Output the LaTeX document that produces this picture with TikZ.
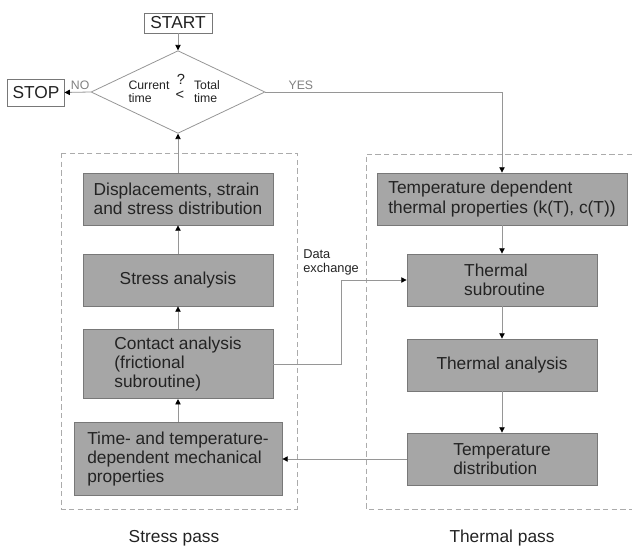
\documentclass[tikz,border=0pt]{standalone}
\usepackage{fontspec}
\setmainfont{Liberation Sans}
\usetikzlibrary{arrows.meta,shapes.geometric}

\definecolor{boxgray}{RGB}{166,166,166}
\definecolor{edgegray}{RGB}{120,120,120}
\definecolor{linegray}{RGB}{150,150,150}
\definecolor{txtgray}{RGB}{35,35,35}

\tikzset{
    procbox/.style={draw=edgegray, fill=boxgray, line width=0.6pt, align=left,
        text=txtgray, font=\fontsize{13}{14.4}\selectfont, inner sep=2pt,
        minimum width=142.5pt, minimum height=39pt},
    endbox/.style={draw=edgegray, fill=white, line width=0.6pt, text=txtgray,
        font=\fontsize{13}{14}\selectfont, inner xsep=3.5pt, inner ysep=1pt},
    flow/.style={draw=linegray, line width=0.6pt,
        -{Triangle[length=4pt,width=4pt,color=black]}},
    passframe/.style={draw=linegray!80, dashed, dash pattern=on 4pt off 2.5pt, line width=0.6pt},
    smalltxt/.style={text=txtgray, font=\fontsize{9.2}{9.6}\selectfont, align=left, inner sep=0pt},
    answer/.style={text=gray, font=\fontsize{9.2}{10}\selectfont, inner sep=1.5pt}
}

\begin{document}
\begin{tikzpicture}[x=0.75pt,y=-0.75pt]
        \useasboundingbox (0,0) rectangle (632,550);

        % dashed frames of the two passes
        \draw[passframe] (61,153) rectangle (297,509);
        \draw[passframe] (632,154) -| (366,509) -- (632,509);

        % time check
        \node[endbox, minimum width=51pt, minimum height=15pt] (start) at (178,23) {START};
        \node[draw=linegray, line width=0.6pt, diamond, inner sep=0pt,
              minimum width=130.5pt, minimum height=62pt] (check) at (178,92) {};
        \node[endbox, minimum width=41pt, minimum height=20pt] (stop) at (36,93) {STOP};
        \node[smalltxt] (cur) at (149,92) {Current\\time};
        \node[smalltxt] (tot) at (207,92) {Total\\time};
        \node[text=txtgray, font=\fontsize{11}{11}\selectfont, inner sep=0pt] (qm) at (181,79) {?};
        \node[text=txtgray, font=\fontsize{11}{11}\selectfont, inner sep=0pt] (lt) at (180,95) {<};

        % stress pass
        \node[procbox] (disp) at (178,199) {Displacements, strain\\and stress distribution};
        \node[procbox] (stress) at (178,280) {Stress analysis};
        \node[procbox, minimum height=52pt] (contact) at (178,364) {Contact analysis\\(frictional\\subroutine)};
        \node[procbox, minimum width=156pt, minimum height=55pt] (mech) at (178,459)
            {Time- and temperature-\\dependent mechanical\\properties};

        % thermal pass
        \node[procbox, minimum width=187.5pt] (thprop) at (502,199)
            {Temperature dependent\\thermal properties (k(T), c(T))};
        \node[procbox] (thsub) at (502,280) {\hspace*{4pt}Thermal\\\hspace*{4pt}subroutine};
        \node[procbox] (thana) at (502,365) {Thermal analysis};
        \node[procbox] (tdist) at (502,459) {Temperature\\distribution};

        \node[text=txtgray, font=\fontsize{13}{14}\selectfont] (spass) at (174,538) {Stress pass};
        \node[text=txtgray, font=\fontsize{13}{14}\selectfont] (tpass) at (502,538) {Thermal pass};

        % connectors
        \draw[flow] (start) -- (check);
        \draw[flow] (check.west) -- node[answer, above, pos=0.4] {NO} (stop);
        \draw[flow] (check.east) -- node[answer, above, pos=0.15] {YES} (check.east -| thprop) -- (thprop);
        \draw[flow] (disp) -- (check);
        \draw[flow] (stress) -- (disp);
        \draw[flow] (contact) -- (stress);
        \draw[flow] (mech) -- (contact);
        \draw[flow] (thprop) -- (thsub);
        \draw[flow] (thsub) -- (thana);
        \draw[flow] (thana) -- (tdist);
        \draw[flow] (tdist) -- (mech);

        \coordinate (bend) at (341,365);
        \draw[flow] (contact) -- (contact -| bend) |- (thsub);
        \node[smalltxt, anchor=north west, font=\fontsize{9.6}{10.5}\selectfont] (dx) at (303,249) {Data\\exchange};
\end{tikzpicture}
\end{document}
